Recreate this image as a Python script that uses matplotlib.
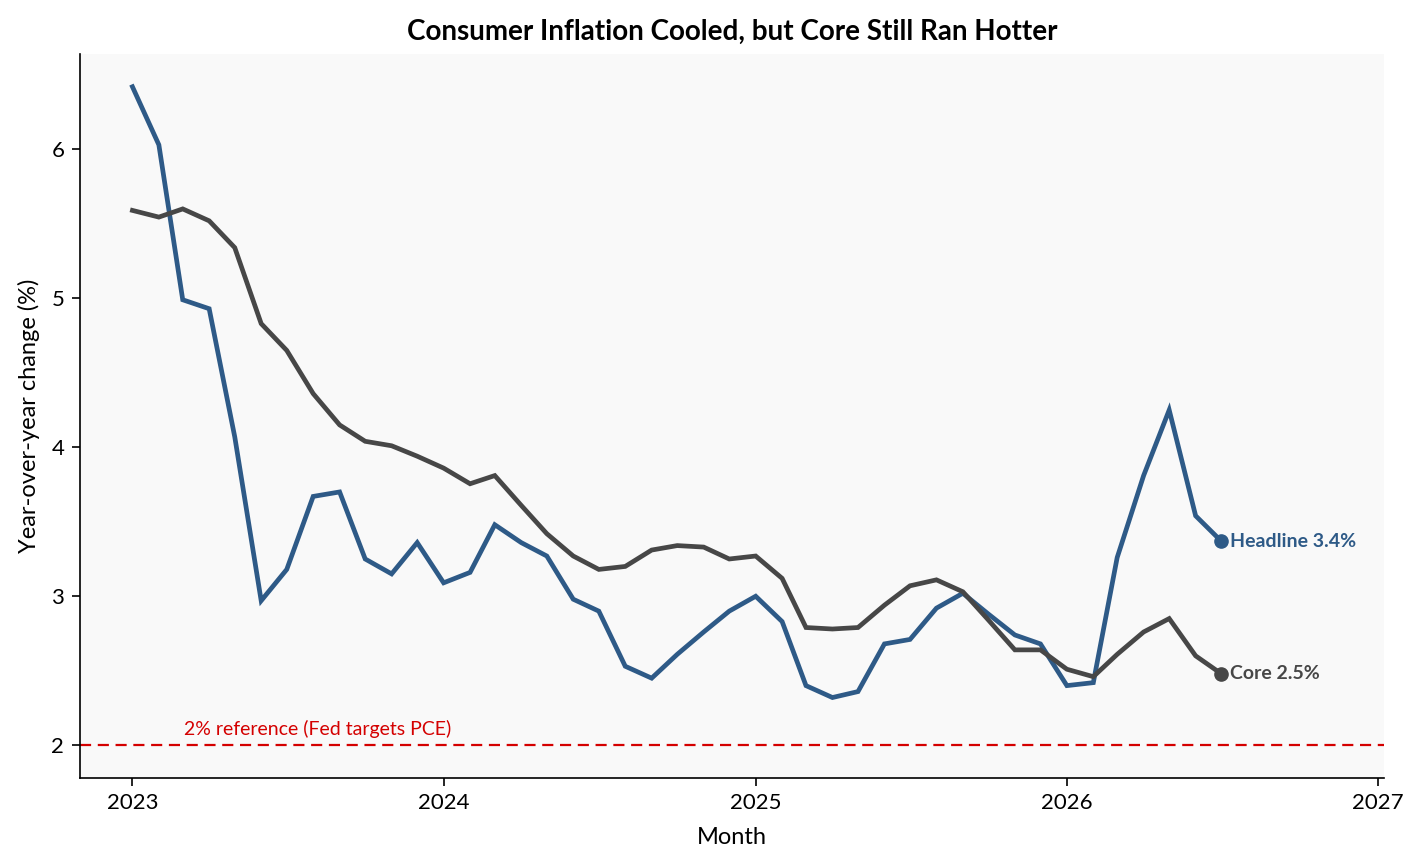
import matplotlib
matplotlib.use("Agg")
import matplotlib.pyplot as plt
import matplotlib.dates as mdates
import pandas as pd

months = pd.date_range("2023-01-01", periods=43, freq="MS")

headline = [6.42, 6.03, 4.99, 4.93, 4.07, 2.97, 3.18, 3.67, 3.70, 3.25,
            3.15, 3.36, 3.09, 3.16, 3.48, 3.36, 3.27, 2.98, 2.90, 2.53,
            2.45, 2.61, 2.76, 2.90, 3.00, 2.83, 2.40, 2.32, 2.36, 2.68,
            2.71, 2.92, 3.02, 2.88, 2.74, 2.68, 2.40, 2.42, 3.26, 3.81,
            4.25, 3.54, 3.37]

core = [5.59, 5.545, 5.60, 5.52, 5.34, 4.83, 4.65, 4.36, 4.15, 4.04,
        4.01, 3.94, 3.86, 3.755, 3.81, 3.61, 3.42, 3.27, 3.18, 3.20,
        3.31, 3.34, 3.33, 3.25, 3.27, 3.12, 2.79, 2.78, 2.79, 2.94,
        3.07, 3.11, 3.03, 2.84, 2.64, 2.64, 2.51, 2.46, 2.61, 2.76,
        2.85, 2.60, 2.48]

ref_value = 2.0
title = "Consumer Inflation Cooled, but Core Still Ran Hotter"
ref_label = "2% reference (Fed targets PCE)"

blue = "#2E5A87"
gray = "#474747"
red = "#D40000"

plt.rcParams["font.family"] = ["Lato", "DejaVu Sans"]

fig = plt.figure(figsize=(14.21, 8.65), dpi=100)
ax = fig.add_axes([0.056, 0.1006, 0.918, 0.837])
ax.set_facecolor("#F9F9F9")

ax.plot(months, headline, color=blue, lw=3.4, solid_joinstyle="miter", zorder=3)
ax.plot(months, core, color=gray, lw=3.4, solid_joinstyle="miter", zorder=3)
ax.axhline(ref_value, color=red, lw=1.6, ls=(0, (5, 3)), zorder=2)

ax.plot([months[-1]], [headline[-1]], "o", color=blue, ms=9.5, zorder=4)
ax.plot([months[-1]], [core[-1]], "o", color=gray, ms=9.5, zorder=4)
ax.annotate(f"Headline {headline[-1]:.1f}%", (months[-1], headline[-1]),
            xytext=(6, 0), textcoords="offset points", ha="left", va="center",
            color=blue, fontsize=14, fontweight="bold")
ax.annotate(f"Core {core[-1]:.1f}%", (months[-1], core[-1]),
            xytext=(6, 0), textcoords="offset points", ha="left", va="center",
            color=gray, fontsize=14, fontweight="bold")

ax.text(pd.Timestamp("2023-03-03"), 2.05, ref_label, color=red, fontsize=14,
        ha="left", va="bottom")

ax.set_xlim(pd.Timestamp("2022-10-31"), pd.Timestamp("2027-01-08"))
ax.set_ylim(1.78, 6.64)
ax.set_yticks([2, 3, 4, 5, 6])
ax.xaxis.set_major_locator(mdates.YearLocator())
ax.xaxis.set_major_formatter(mdates.DateFormatter("%Y"))

for s in ("top", "right"):
    ax.spines[s].set_visible(False)
for s in ("left", "bottom"):
    ax.spines[s].set_linewidth(1.2)
ax.tick_params(axis="both", length=6, width=1.2, labelsize=16, pad=5)

ax.set_title(title, fontsize=20, fontweight="bold", pad=10)
ax.set_xlabel("Month", fontsize=17, labelpad=10)
ax.set_ylabel("Year-over-year change (%)", fontsize=17, labelpad=8)

fig.savefig("out.png", dpi=100)
